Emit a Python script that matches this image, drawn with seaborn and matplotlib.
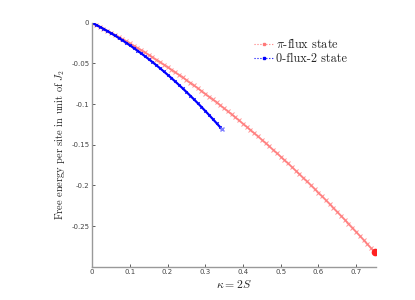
import matplotlib
matplotlib.use("Agg")
import matplotlib.pyplot as plt
import seaborn as sns
import pandas as pd
from matplotlib.lines import Line2D

pi_x = [0, 0.01, 0.02, 0.03, 0.04, 0.05, 0.06, 0.07, 0.08, 0.09, 0.10, 0.11, 0.12,
        0.13, 0.14, 0.15, 0.16, 0.17, 0.18, 0.19, 0.20, 0.21, 0.22, 0.23, 0.24, 0.25,
        0.26, 0.27, 0.28, 0.29, 0.30, 0.31, 0.32, 0.33, 0.34, 0.35, 0.36, 0.37, 0.38,
        0.39, 0.40, 0.41, 0.42, 0.43, 0.44, 0.45, 0.46, 0.47, 0.48, 0.49, 0.50, 0.51,
        0.52, 0.53, 0.54, 0.55, 0.56, 0.57, 0.58, 0.59, 0.60, 0.61, 0.62, 0.63, 0.64,
        0.65, 0.66, 0.67, 0.68, 0.69, 0.70, 0.71, 0.72, 0.73, 0.74, 0.75]
pi_y = [0, -0.00236, -0.00476, -0.00719, -0.00966, -0.01218, -0.01472, -0.01731,
        -0.01994, -0.0226, -0.0253, -0.02804, -0.03082, -0.03363, -0.03648, -0.03938,
        -0.0423, -0.04527, -0.04828, -0.05132, -0.0544, -0.05752, -0.06068, -0.06387,
        -0.0671, -0.07038, -0.07368, -0.07703, -0.08042, -0.08384, -0.0873, -0.0908,
        -0.09434, -0.09791, -0.10152, -0.10518, -0.10886, -0.11259, -0.11636, -0.12016,
        -0.124, -0.12788, -0.1318, -0.13575, -0.13974, -0.14378, -0.14784, -0.15195,
        -0.1561, -0.16028, -0.1645, -0.16876, -0.17306, -0.17739, -0.18176, -0.18618,
        -0.19062, -0.19511, -0.19964, -0.2042, -0.2088, -0.21344, -0.21812, -0.22283,
        -0.22758, -0.23238, -0.2372, -0.24207, -0.24698, -0.25192, -0.2569, -0.26192,
        -0.26698, -0.27207, -0.2772, -0.28238]
zf_x = [0, 0.01, 0.02, 0.03, 0.04, 0.05, 0.06, 0.07, 0.08, 0.09, 0.10, 0.11, 0.12,
        0.13, 0.14, 0.15, 0.16, 0.17, 0.18, 0.19, 0.20, 0.21, 0.22, 0.23, 0.24, 0.25,
        0.26, 0.27, 0.28, 0.29, 0.30, 0.31, 0.32, 0.33, 0.34, 0.345]
zf_y = [0, -0.00238, -0.00485, -0.0074, -0.01004, -0.01276, -0.01557, -0.01846,
        -0.02143, -0.02449, -0.02764, -0.03087, -0.03419, -0.03759, -0.04107, -0.04464,
        -0.04829, -0.05203, -0.05586, -0.05977, -0.06376, -0.06784, -0.072, -0.07625,
        -0.08058, -0.085, -0.0895, -0.09409, -0.09876, -0.10352, -0.10836, -0.11329,
        -0.1183, -0.12339, -0.12857, -0.1312]
labels = [r"$\pi$-flux state", "0-flux-2 state"]
xticks = [0, 0.1, 0.2, 0.3, 0.4, 0.5, 0.6, 0.7]
yticks = [0, -0.05, -0.1, -0.15, -0.2, -0.25]

sns.set_theme(style="white")
plt.rcParams["mathtext.fontset"] = "cm"
plt.rcParams["axes.unicode_minus"] = False

fig = plt.figure(figsize=(4.15, 3.0), dpi=100)
ax = fig.add_axes([0.222, 0.111, 0.683, 0.813])

df_pi = pd.DataFrame({"x": pi_x, "y": pi_y})
df_zf = pd.DataFrame({"x": zf_x, "y": zf_y})
red = "#ff7878"
blue = "#0000ff"
sns.lineplot(data=df_pi, x="x", y="y", ax=ax, color=red, alpha=0.8, lw=1.4,
             marker="x", markersize=2.2, markeredgewidth=0.7, markeredgecolor=red,
             sort=False)
sns.lineplot(data=df_zf, x="x", y="y", ax=ax, color=blue, lw=1.6,
             marker="x", markersize=1.8, markeredgewidth=0.7, markeredgecolor=blue,
             sort=False)
ax.plot([pi_x[-1]], [pi_y[-1]], "o", color="#ff2020", markersize=4.5)
ax.plot([zf_x[-1]], [zf_y[-1]], "x", color="#8080ff", markersize=3, mew=1)

ax.set_xlim(0, 0.752)
ax.set_ylim(-0.3, 0)
ax.set_xticks(xticks)
ax.set_xticklabels([("%g" % t) for t in xticks])
ax.set_yticks(yticks)
ax.set_yticklabels([("%g" % t) for t in yticks])
ax.tick_params(axis="both", labelsize=5, direction="in", length=2, width=0.6,
               colors="#444444", pad=2, bottom=True, left=True)
for s in ["top", "right"]:
    ax.spines[s].set_visible(False)
for s in ["left", "bottom"]:
    ax.spines[s].set_color("#999999")
    ax.spines[s].set_linewidth(1.0)

ax.set_xlabel(r"$\kappa = 2S$", fontsize=8.5, family="cmr10", labelpad=2)
ax.set_ylabel(r"Free energy per site in unit of $J_2$", fontsize=7.5, family="cmr10",
              labelpad=3)

handles = [Line2D([], [], color=red, ls=":", lw=0.8, marker="s", markersize=2),
           Line2D([], [], color=blue, ls=":", lw=0.8, marker="s", markersize=2)]
leg = ax.legend(handles, labels, loc="upper left", bbox_to_anchor=(0.555, 0.96),
                frameon=False, prop={"family": "cmr10", "size": 8.8},
                handlelength=1.6, handletextpad=0.15, labelspacing=0.15,
                borderaxespad=0)

fig.savefig("out.png", dpi=100)
